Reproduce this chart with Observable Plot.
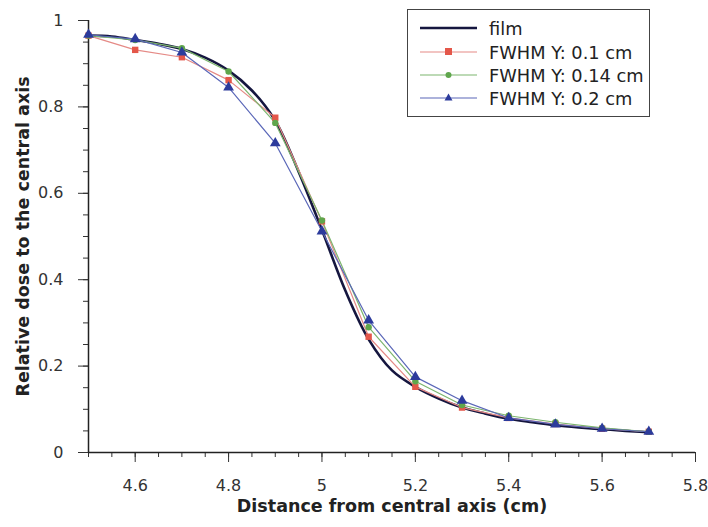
<!DOCTYPE html>
<html><head><meta charset="utf-8">
<script src="https://cdn.jsdelivr.net/npm/d3@7"></script>
<script src="https://cdn.jsdelivr.net/npm/@observablehq/plot@0.6"></script>
<style>
body{margin:0;background:#fff;font-family:"DejaVu Sans",sans-serif;}
#wrap{position:relative;width:708px;height:527px;}
#legend{position:absolute;left:407px;top:9px;width:241px;height:106px;border:1.3px solid #444;background:#fff;font-size:17.8px;color:#222;}
.row{position:absolute;left:0;height:22px;display:flex;align-items:center;}
.row svg{margin-left:12px;}
.row span{margin-left:12px;white-space:nowrap;}
</style></head>
<body><div id="wrap"><div id="chart"></div><div id="legend"></div></div>
<script>
const xPoints = [4.5,4.6,4.7,4.8,4.9,5.0,5.1,5.2,5.3,5.4,5.5,5.6,5.7];
const fwhm01  = [0.965,0.932,0.915,0.862,0.775,0.535,0.268,0.152,0.104,0.080,0.066,0.055,0.048];
const fwhm014 = [0.965,0.955,0.936,0.882,0.763,0.537,0.290,0.165,0.110,0.085,0.070,0.057,0.048];
const fwhm02  = [0.967,0.957,0.926,0.845,0.716,0.512,0.306,0.175,0.120,0.080,0.065,0.055,0.048];
const filmX = [4.5,4.55,4.6,4.65,4.7,4.75,4.8,4.85,4.9,4.95,5.0,5.05,5.1,5.15,5.2,5.25,5.3,5.35,5.4,5.45,5.5,5.55,5.6,5.65,5.7];
const filmY = [0.965,0.963,0.955,0.946,0.934,0.914,0.884,0.838,0.768,0.650,0.515,0.375,0.262,0.190,0.152,0.125,0.104,0.090,0.078,0.070,0.063,0.058,0.054,0.050,0.047];
const seriesNames = ["film","FWHM Y: 0.1 cm","FWHM Y: 0.14 cm","FWHM Y: 0.2 cm"];
const xTicks = [4.6,4.8,5,5.2,5.4,5.6,5.8];
const yTicks = [0,0.2,0.4,0.6,0.8,1];

const film = filmX.map((x,i)=>({x,y:filmY[i]}));
const mk = arr => xPoints.map((x,i)=>({x,y:arr[i]}));
const s1 = mk(fwhm01), s2 = mk(fwhm014), s3 = mk(fwhm02);
const minorX = d3.range(0,27).map(i=>+(4.5+i*0.05).toFixed(2));
const minorY = d3.range(0,21).map(i=>+(i*0.05).toFixed(2));

const cFilm="#15163f", cRed="#e4574a", cRedL="#e58a86", cGreen="#5fa64c", cGreenL="#7cb56e", cBlue="#2c3b9c", cBlueL="#5a67b8";

const plot = Plot.plot({
  width:708, height:527,
  marginLeft:88, marginRight:13, marginTop:20, marginBottom:75,
  style:{fontFamily:"DejaVu Sans, sans-serif", fontSize:"16px", color:"#333", background:"#fff"},
  x:{domain:[4.5,5.8]},
  y:{domain:[0,1]},
  marks:[
    Plot.axisX({ticks:minorX, tickSize:5, tickFormat:()=>"", label:null, stroke:"#333"}),
    Plot.axisX({ticks:xTicks, tickSize:10, tickPadding:17, tickFormat:d=>String(d), label:null, stroke:"#333", fill:"#333"}),
    Plot.axisY({ticks:minorY, tickSize:5, tickFormat:()=>"", label:null, stroke:"#333"}),
    Plot.axisY({ticks:yTicks, tickSize:10, tickPadding:15, tickFormat:d=>String(d), label:null, stroke:"#333", fill:"#333"}),
    Plot.ruleY([0],{stroke:"#222", strokeWidth:1.5}),
    Plot.ruleX([4.5],{stroke:"#222", strokeWidth:1.5}),
    Plot.line(film,{x:"x",y:"y",stroke:cFilm,strokeWidth:2.6,curve:"catmull-rom"}),
    Plot.line(s1,{x:"x",y:"y",stroke:cRedL,strokeWidth:1.2}),
    Plot.line(s2,{x:"x",y:"y",stroke:cGreenL,strokeWidth:1.2}),
    Plot.line(s3,{x:"x",y:"y",stroke:cBlueL,strokeWidth:1.2}),
    Plot.dot(s1,{x:"x",y:"y",symbol:"square",r:3.6,fill:cRed,stroke:"none"}),
    Plot.dot(s2,{x:"x",y:"y",symbol:"circle",r:3.2,fill:cGreen,stroke:"none"}),
    Plot.dot(s3,{x:"x",y:"y",symbol:"triangle",r:4,fill:cBlue,stroke:"none"}),
    Plot.text(["Distance from central axis (cm)"],{frameAnchor:"bottom",dy:59,textAnchor:"middle",fontWeight:"bold",fontSize:17.5,fill:"#222"}),
    Plot.text(["Relative dose to the central axis"],{frameAnchor:"left",dx:-65,textAnchor:"middle",rotate:-90,fontWeight:"bold",fontSize:17.5,fill:"#222"})
  ]
});
document.getElementById("chart").appendChild(plot);

// legend
const leg = document.getElementById("legend");
const legendItems = [
  {name:seriesNames[0], line:cFilm, w:2.6, sym:null, top:7},
  {name:seriesNames[1], line:cRedL, w:1.2, sym:"square", fill:cRed, top:31},
  {name:seriesNames[2], line:cGreenL, w:1.2, sym:"circle", fill:cGreen, top:54},
  {name:seriesNames[3], line:cBlueL, w:1.2, sym:"triangle", fill:cBlue, top:77}
];
legendItems.forEach(it=>{
  const row=document.createElement("div"); row.className="row"; row.style.top=it.top+"px";
  let symSvg="";
  if(it.sym==="square") symSvg=`<rect x="25" y="7" width="7" height="7" fill="${it.fill}"/>`;
  if(it.sym==="circle") symSvg=`<circle cx="28.5" cy="11" r="3" fill="${it.fill}"/>`;
  if(it.sym==="triangle") symSvg=`<path d="M28.5,6.5 L32.5,13.5 L24.5,13.5 Z" fill="${it.fill}"/>`;
  row.innerHTML=`<svg width="57" height="22"><line x1="0" x2="57" y1="11" y2="11" stroke="${it.line}" stroke-width="${it.w}"/>${symSvg}</svg><span>${it.name}</span>`;
  leg.appendChild(row);
});
</script>
</body></html>
